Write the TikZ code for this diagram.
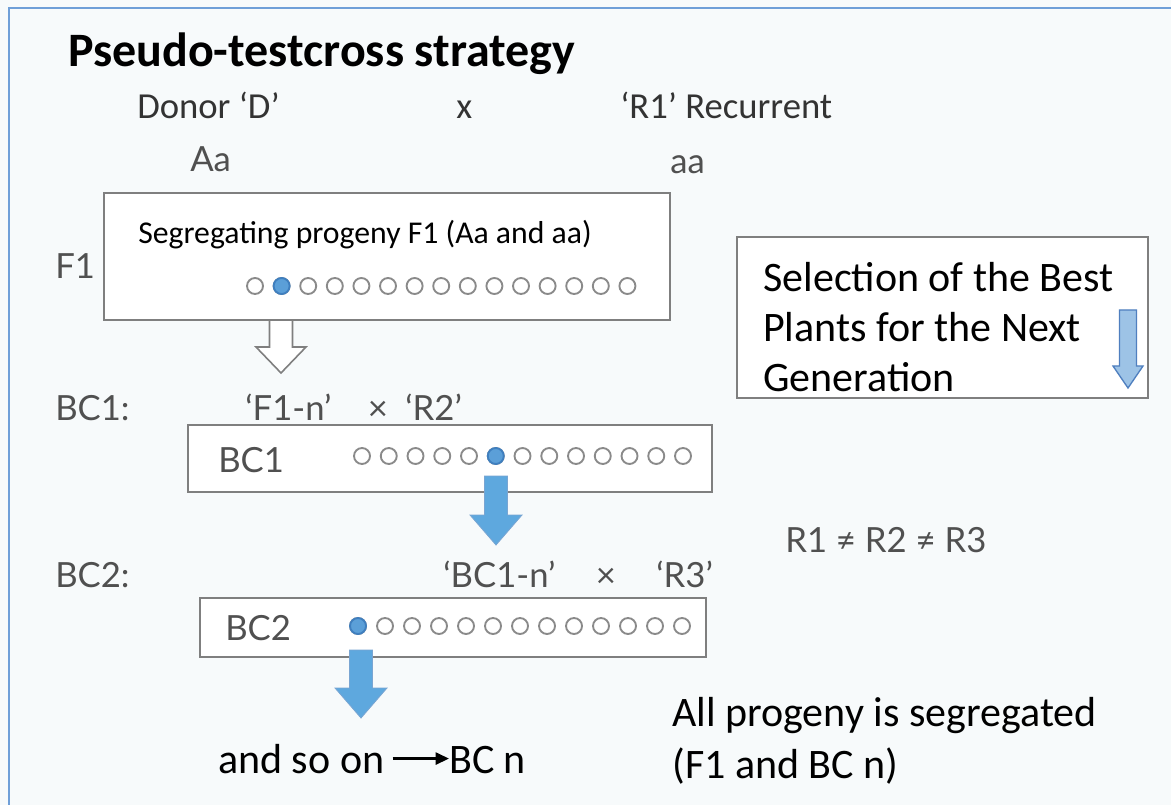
\documentclass[tikz,border=0pt]{standalone}
\usepackage{fontspec}
\setmainfont{Carlito}
\newfontfamily\gillfont{Lato}
\usetikzlibrary{arrows.meta}
\definecolor{framebl}{HTML}{6F9FD8}
\definecolor{paper}{HTML}{F7FAFB}
\definecolor{boxgray}{HTML}{7F7F7F}
\definecolor{labelgray}{HTML}{505050}
\definecolor{darkgray}{HTML}{333333}
\definecolor{seedgray}{HTML}{8A8A8A}
\definecolor{seedblue}{HTML}{5B9FD8}
\definecolor{seededge}{HTML}{3F7FBF}
\definecolor{arrowblue}{HTML}{5EA8DE}
\definecolor{paleblue}{HTML}{9DC3E6}
\definecolor{paleedge}{HTML}{4F7FBF}

% downward block arrow: x, top, tip, half shaft, half head, head length, style
\newcommand{\blockdown}[7]{%
  \draw[#7] (#1-#4,#2) -- (#1+#4,#2) -- (#1+#4,#3-#6) -- (#1+#5,#3-#6)
    -- (#1,#3) -- (#1-#5,#3-#6) -- (#1-#4,#3-#6) -- cycle;}

\begin{document}
\begin{tikzpicture}[x=0.75pt,y=-0.75pt,
  box/.style={draw=boxgray,line width=1.3pt,fill=white},
  seed/.style={draw=seedgray,line width=1.4pt,fill=white},
  seedsel/.style={draw=seededge,line width=1.4pt,fill=seedblue},
  lbl/.style={anchor=base west,inner sep=0pt,text=labelgray,
    font=\gillfont\fontsize{26}{30}\selectfont},
  txt/.style={anchor=base west,inner sep=0pt,text=black,
    font=\fontsize{31.5}{36}\selectfont}]
\useasboundingbox (0,0) rectangle (1171,805);
\fill[paper] (0,0) rectangle (1171,805);
\draw[framebl,line width=1.5pt] (9,805) -- (9,8) -- (1171,8);

% title and parents
\node[txt,font=\bfseries\fontsize{36}{41}\selectfont] (title) at (68,67) {Pseudo-testcross strategy};
\node[txt,text=darkgray,font=\fontsize{27.5}{32}\selectfont] (donor) at (137,119) {Donor ‘D’};
\node[txt,text=darkgray,font=\fontsize{27.5}{32}\selectfont] (cross) at (456,119) {x};
\node[txt,text=darkgray,font=\fontsize{27.5}{32}\selectfont] (recur) at (620,119) {‘R1’ Recurrent};
\node[lbl] (gdonor) at (190,172) {Aa};
\node[lbl] (grecur) at (670,174) {aa};

% F1
\draw[box] (104,193) rectangle (670,320);
\node[txt,font=\fontsize{23.8}{28}\selectfont] (seg) at (138,244) {Segregating progeny F1 (Aa and aa)};
\node[lbl] (fone) at (55,279) {F1};
\foreach \i in {0,...,14}
  \draw[seed] (255+26.6*\i,286) circle (6pt);
\draw[seedsel] (281.6,286) circle (6pt);
\blockdown{281}{320}{373}{11.5}{25}{26}{draw=boxgray,line width=1.2pt,fill=white}

% BC1
\node[lbl] (bcone) at (55,421) {BC1:};
\node[lbl] (fonen) at (245,421) {‘F1-n’};
\node[lbl,anchor=base] (xone) at (378,421) {×};
\node[lbl] (rtwo) at (405,421) {‘R2’};
\draw[box] (188,425) rectangle (712,492);
\node[lbl] (bconebox) at (218,472) {BC1};
\foreach \i in {0,...,12}
  \draw[seed] (362+26.75*\i,456) circle (6pt);
\draw[seedsel] (495.75,456) circle (6pt);
\blockdown{496}{476}{545}{11.5}{26}{30}{draw=seededge!70,line width=0.6pt,fill=arrowblue}

% BC2
\node[lbl] (bctwo) at (55,587) {BC2:};
\node[lbl] (bconen) at (443,587) {‘BC1-n’};
\node[lbl,anchor=base] (xtwo) at (606,587) {×};
\node[lbl] (rthree) at (656,587) {‘R3’};
\draw[box] (200,598) rectangle (706,657);
\node[lbl] (bctwobox) at (225,640) {BC2};
\foreach \i in {0,...,12}
  \draw[seed] (358+27*\i,626) circle (6pt);
\draw[seedsel] (358,626) circle (6pt);
\blockdown{361}{650}{718}{11.5}{26}{30}{draw=seededge!70,line width=0.6pt,fill=arrowblue}

% and so on
\node[txt] (soon) at (218,773) {and so on};
\node[txt] (bcn) at (449,773) {BC n};
\draw[line width=1.8pt,-{Triangle[length=10pt,width=9pt]},shorten <=6pt]
  (soon.east) -- (bcn.west |- soon.east);

% selection note
\draw[box] (737,237) rectangle (1148,398);
\node[txt] (selone) at (763,292) {Selection of the Best};
\node[txt] (seltwo) at (763,342) {Plants for the Next};
\node[txt] (selthree) at (763,392) {Generation};
\blockdown{1128}{310}{388}{8.5}{15}{22}{draw=paleedge,line width=1pt,fill=paleblue}

% side notes
\node[lbl] (rneq) at (785,552) {R1 ≠ R2 ≠ R3};
\node[txt] (allone) at (672,726) {All progeny is segregated};
\node[txt] (alltwo) at (672,778) {(F1 and BC n)};
\end{tikzpicture}
\end{document}
